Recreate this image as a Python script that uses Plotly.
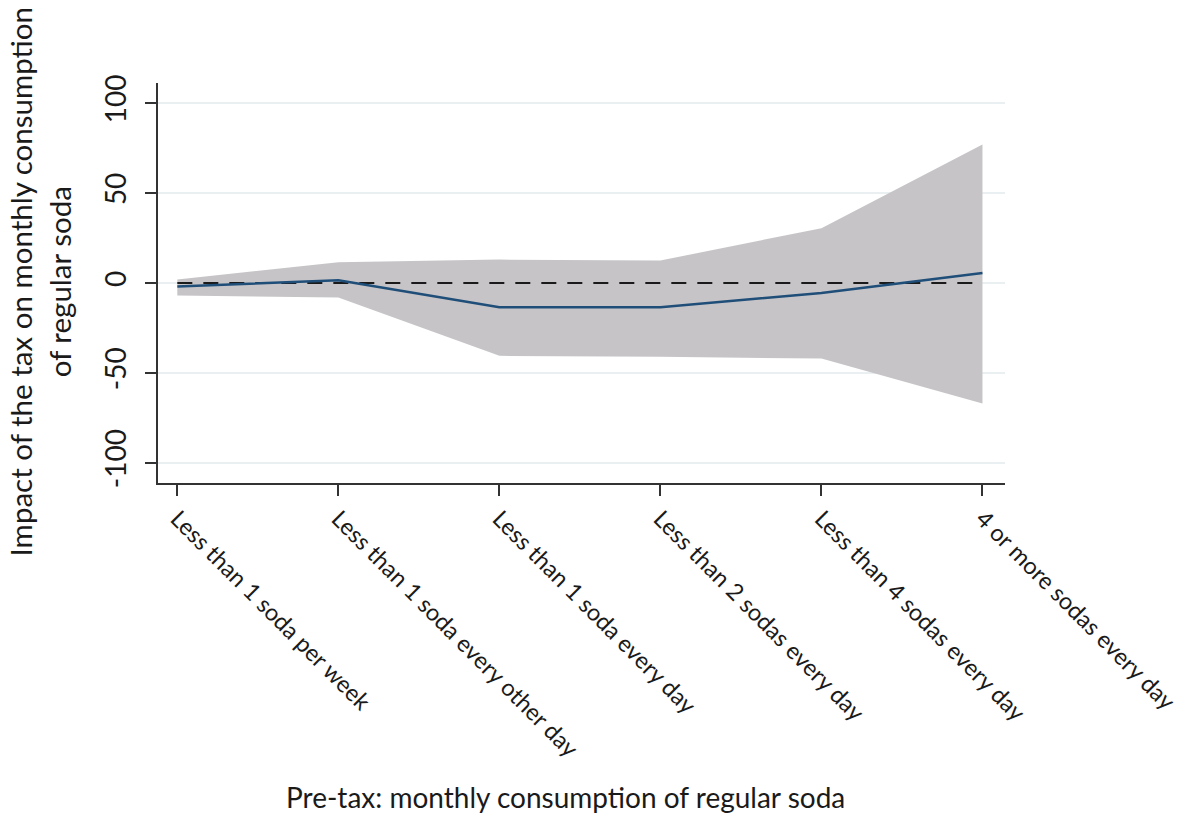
import plotly.graph_objects as go

# Pre-tax consumption groups (x axis categories)
categories = [
    "Less than 1 soda per week",
    "Less than 1 soda every other day",
    "Less than 1 soda every day",
    "Less than 2 sodas every day",
    "Less than 4 sodas every day",
    "4 or more sodas every day",
]

# Estimated impact of the tax and its confidence band
estimate = [-2, 1.5, -13.5, -13.5, -5.5, 5.5]
ci_upper = [2, 11.5, 13, 12.5, 30.5, 77]
ci_lower = [-7, -8, -40.5, -41, -42, -67]

y_ticks = [-100, -50, 0, 50, 100]

x = list(range(len(categories)))
FONT = "Lato"
TEXT = "#1a1a1a"

fig = go.Figure()

# Confidence band
fig.add_trace(go.Scatter(
    x=x, y=ci_upper, mode="lines", line=dict(width=0),
    hoverinfo="skip", showlegend=False,
))
fig.add_trace(go.Scatter(
    x=x, y=ci_lower, mode="lines", line=dict(width=0),
    fill="tonexty", fillcolor="#c6c4c7",
    hoverinfo="skip", showlegend=False,
))

# Zero reference line
fig.add_trace(go.Scatter(
    x=[x[0], x[-1]], y=[0, 0], mode="lines",
    line=dict(color=TEXT, width=2, dash="15px,11px"),
    hoverinfo="skip", showlegend=False,
))

# Point estimates
fig.add_trace(go.Scatter(
    x=x, y=estimate, mode="lines",
    line=dict(color="#1f4e79", width=2.5),
    showlegend=False,
))

fig.update_layout(
    width=1190, height=831,
    margin=dict(l=158, r=185, t=83, b=348),
    paper_bgcolor="white", plot_bgcolor="white",
    font=dict(family=FONT, color=TEXT),
    annotations=[
        dict(text="Pre-tax: monthly consumption of regular soda",
             xref="paper", yref="paper", x=0.4817, y=-0.785,
             xanchor="center", yanchor="middle", showarrow=False,
             font=dict(family=FONT, size=28, color=TEXT)),
        dict(text="Impact of the tax on monthly consumption<br>of regular soda",
             xref="paper", yref="paper", x=-0.14, y=0.5025,
             xanchor="center", yanchor="middle", showarrow=False,
             textangle=-90,
             font=dict(family=FONT, size=29.5, color=TEXT)),
    ],
)

fig.update_xaxes(
    automargin=False,
    range=[-0.12, 5.14],
    tickvals=x, ticktext=categories,
    tickangle=45,
    tickfont=dict(family=FONT, size=23.5, color=TEXT),
    ticks="outside", ticklen=11, tickcolor="#333333", tickwidth=1.5,
    showline=True, linecolor="#333333", linewidth=1.5,
    showgrid=False, zeroline=False,
)

fig.update_yaxes(
    automargin=False,
    range=[-111.2, 111.2],
    tickvals=y_ticks, ticktext=[str(v) for v in y_ticks],
    tickangle=-90,
    tickfont=dict(family=FONT, size=28, color=TEXT),
    ticks="outside", ticklen=11, tickcolor="#333333", tickwidth=1.5,
    ticklabelstandoff=8,
    showline=True, linecolor="#333333", linewidth=1.5,
    showgrid=True, gridcolor="#eaeff2", gridwidth=1.5,
    zeroline=False,
)

fig.write_html("out.html")
